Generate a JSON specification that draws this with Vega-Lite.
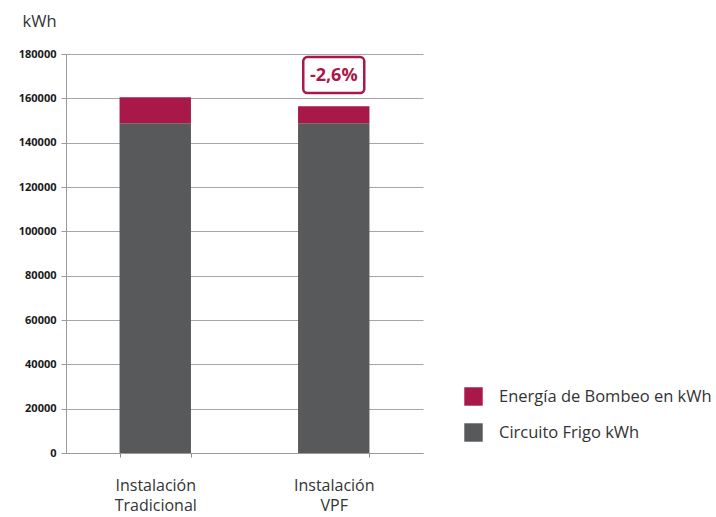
{
  "$schema": "https://vega.github.io/schema/vega-lite/v6.json",
  "width": 357,
  "height": 399,
  "autosize": {"type": "none"},
  "padding": {"left": 66, "top": 54, "right": 293, "bottom": 64},
  "background": "white",
  "config": {
    "font": "Open Sans",
    "view": {"stroke": null}
  },
  "datasets": {
    "bars": [
      {"instalacion": "Instalación Tradicional", "serie": "Circuito Frigo kWh", "kwh": 148800, "ord": 1},
      {"instalacion": "Instalación Tradicional", "serie": "Energía de Bombeo en kWh", "kwh": 11700, "ord": 2},
      {"instalacion": "Instalación VPF", "serie": "Circuito Frigo kWh", "kwh": 148800, "ord": 1},
      {"instalacion": "Instalación VPF", "serie": "Energía de Bombeo en kWh", "kwh": 7600, "ord": 2}
    ],
    "note": [
      {"instalacion": "Instalación VPF", "label": "-2,6%", "y1": 162400, "y2": 178600, "ymid": 170300}
    ]
  },
  "layer": [
    {
      "data": {"name": "bars"},
      "mark": {"type": "bar"},
      "encoding": {
        "x": {
          "field": "instalacion", "type": "nominal", "sort": null,
          "scale": {"paddingInner": 0.6, "paddingOuter": 0.3},
          "axis": {
            "title": null, "labelAngle": 0,
            "labelExpr": "split(datum.label, ' ')",
            "labelFontSize": 16, "labelColor": "#333333", "labelPadding": 20,
            "labelLineHeight": 20,
            "tickBand": "extent", "tickSize": 4, "tickColor": "#8a8a8a",
            "domainColor": "#9a9a9a", "grid": false
          }
        },
        "y": {
          "field": "kwh", "type": "quantitative", "aggregate": "sum", "stack": "zero",
          "scale": {"domain": [0, 180000], "nice": false},
          "axis": {
            "title": "kWh", "titleAngle": 0, "titleX": -44, "titleY": -28,
            "titleFontSize": 16.5, "titleFontWeight": "normal", "titleColor": "#333333",
            "titleAlign": "left", "titleBaseline": "alphabetic",
            "values": [0, 20000, 40000, 60000, 80000, 100000, 120000, 140000, 160000, 180000],
            "format": "d",
            "labelFontSize": 11, "labelFontWeight": "bold", "labelColor": "#1a1a1a",
            "labelPadding": 5, "tickSize": 5, "tickColor": "#9a9a9a",
            "domainColor": "#9a9a9a", "gridColor": "#a6a6a6", "grid": true
          }
        },
        "color": {
          "field": "serie", "type": "nominal",
          "scale": {"domain": ["Energía de Bombeo en kWh", "Circuito Frigo kWh"], "range": ["#A8194A", "#58595B"]},
          "legend": {
            "title": null, "orient": "none", "legendX": 398, "legendY": 333,
            "symbolType": "square", "symbolSize": 340, "symbolStrokeWidth": 0,
            "labelFontSize": 16.5, "labelColor": "#333333", "labelOffset": 16,
            "rowPadding": 17, "labelLimit": 300
          }
        },
        "order": {"field": "ord", "type": "quantitative"}
      }
    },
    {
      "data": {"name": "note"},
      "mark": {"type": "rect", "width": 61, "fill": "white", "stroke": "#A8194A", "strokeWidth": 2.5, "cornerRadius": 4},
      "encoding": {
        "x": {"field": "instalacion", "type": "nominal", "sort": null},
        "y": {"field": "y1", "type": "quantitative"},
        "y2": {"field": "y2"}
      }
    },
    {
      "data": {"name": "note"},
      "mark": {"type": "text", "fontSize": 18, "fontWeight": "bold", "color": "#A8194A", "baseline": "middle"},
      "encoding": {
        "x": {"field": "instalacion", "type": "nominal", "sort": null},
        "y": {"field": "ymid", "type": "quantitative"},
        "text": {"field": "label"}
      }
    }
  ]
}
